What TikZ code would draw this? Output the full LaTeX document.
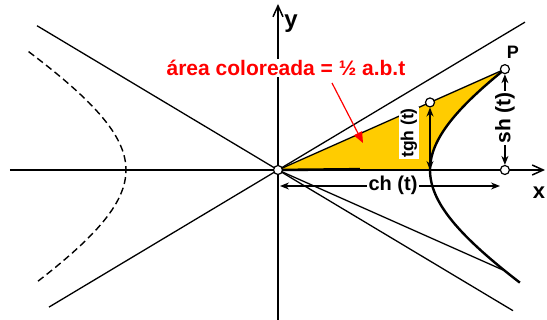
\documentclass[tikz,border=0pt]{standalone}
\usepackage{fontspec}
\setmainfont{Liberation Sans}
\usetikzlibrary{arrows.meta,calc}
\definecolor{AreaFill}{RGB}{255,204,0}
\definecolor{NoteRed} {RGB}{255,0,0}
\tikzset{
  nd_pt/.style={
    circle, draw=black, fill=white, line width=1.2pt,
    minimum size=9pt, inner sep=0pt},
  nd_lbl/.style={
    fill=white, inner sep=1.5pt,
    font=\fontsize{18}{18}\selectfont\bfseries},
  nd_axl/.style={font=\fontsize{24}{24}\selectfont\bfseries},
  arr/.style={{Stealth[length=9pt,width=7pt]}-{Stealth[length=9pt,width=7pt]},line width=1.3pt},
  axis/.style={-{Straight Barb[length=11pt,width=10pt]},line width=1.5pt},
  asym/.style={line width=1.3pt},
  hyp/.style={line width=2.4pt,line join=round},
}
\newcommand{\ha}{152}
\newcommand{\hb}{91}
\newcommand{\tP}{0.956}

\begin{document}
\begin{tikzpicture}[x=1pt,y=1pt]
\useasboundingbox (-278,-150) rectangle (269,170);

\coordinate (o) at (0,0);
\coordinate (p) at ({\ha*cosh(\tP)},{\hb*sinh(\tP)});
\coordinate (q) at ({\ha*cosh(\tP)},{-\hb*sinh(\tP)});
\coordinate (v) at (\ha,0);
\coordinate (g) at (\ha,{\hb*tanh(\tP)});
\coordinate (f) at ({\ha*cosh(\tP)},0);

%% shaded sector
\fill[AreaFill] (o) -- (p)
  -- plot[domain=\tP:0,samples=40,variable=\t] ({\ha*cosh(\t)},{\hb*sinh(\t)}) -- cycle;

%% axes
\draw[axis] (-268,0) -- (267,0);
\draw[axis] (0,-150) -- (0,166);
\node[nd_axl] (Y) at (13,146) {y};
\node[nd_axl,font=\fontsize{22}{22}\selectfont\bfseries] (X) at (261,-23) {x};

%% asymptotes
\draw[asym] (-241,{241*(\hb/\ha)}) -- (235,{-235*(\hb/\ha)});
\draw[asym] (-229,{-229*(\hb/\ha)}) -- (247,{247*(\hb/\ha)});

%% hyperbola
\draw[hyp] plot[domain=-1.04:\tP,samples=60,variable=\t] ({\ha*cosh(\t)},{\hb*sinh(\t)});
\draw[line width=1.4pt,dash pattern=on 7pt off 4pt]
  plot[domain=-1.03:1.08,samples=60,variable=\t] ({-\ha*cosh(\t)},{\hb*sinh(\t)});
\draw[line width=1.3pt] (o) -- (p);
\draw[line width=1.3pt] (o) -- (q);
\coordinate (k) at (82,0.8);
\draw[line width=2.6pt] (o) -- (k);

%% points
\node[nd_pt] (O) at (o) {};
\node[nd_pt] (P) at (p) {};
\node[nd_pt] (G) at (g) {};
\node[nd_pt] (F) at (f) {};
\node[font=\fontsize{18}{18}\selectfont\bfseries] (Pl) at (235,118) {P};

%% measures
\draw[arr] (v) -- (G);
\node[nd_lbl,rotate=90,font=\fontsize{17.5}{18}\selectfont\bfseries] (tg) at (131,37) {tgh (t)};
\draw[arr] (F) -- (P);
\node[nd_lbl,rotate=90,font=\fontsize{21}{21}\selectfont\bfseries] (sh) at (227,52) {sh (t)};
\coordinate (cl) at (2,-16);
\coordinate (cr) at (222,-16);
\draw[arr] (cl) -- (cr);
\node[nd_lbl,font=\fontsize{20}{20}\selectfont\bfseries] (ch) at (115,-15) {ch (t)};

%% note
\node[fill=white,inner sep=1pt,text=NoteRed,font=\fontsize{21}{21}\selectfont\bfseries]
  (note) at (8,102) {área coloreada = ½ a.b.t};
\coordinate (nt) at (54,87);
\coordinate (nh) at (85,27);
\draw[NoteRed,line width=1.2pt,-{Triangle[length=11pt,width=9pt]}] (nt) -- (nh);

\end{tikzpicture}
\end{document}
